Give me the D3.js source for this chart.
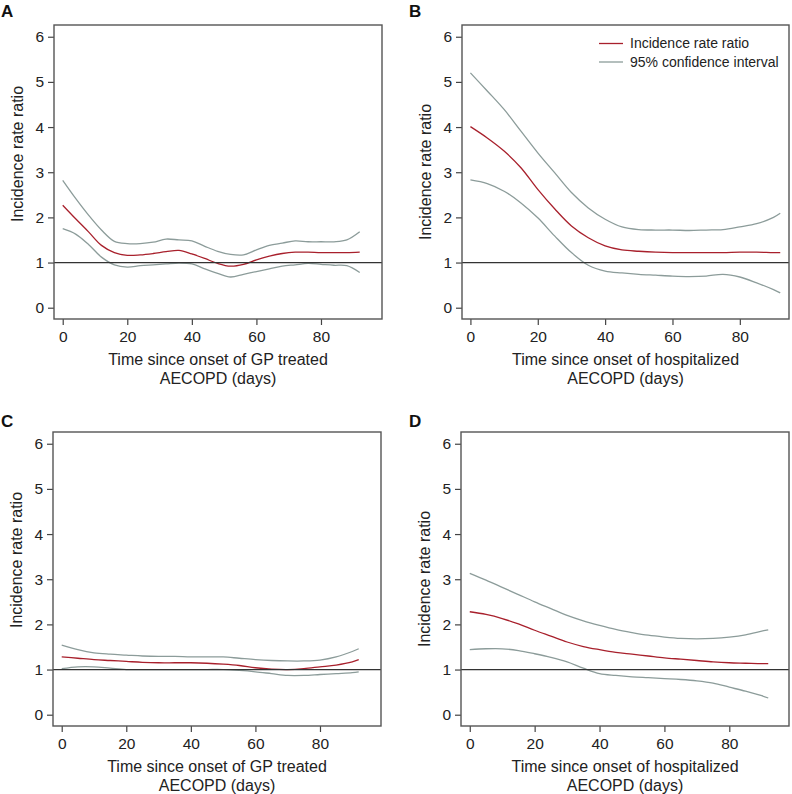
<!DOCTYPE html>
<html>
<head>
<meta charset="utf-8">
<script src="https://cdnjs.cloudflare.com/ajax/libs/d3/7.8.5/d3.min.js"></script>
<style type='text/css'>
  body { margin: 0; background: #fff; }
  svg text { font-family: "Liberation Sans", Arial, Helvetica, sans-serif; fill: #222; }
  .frame { fill: none; stroke: #555; stroke-width: 1.4; }
  .axis line { stroke: #444; stroke-width: 1.2; }
  .axis path { display: none; }
</style>
</head>
<body>
<div id='chart'></div>
<script type='text/javascript'>
// --- data ---
// panel A: GP treated AECOPD
var daysA  = [0,4,8,12,16,20,24,28,32,36,40,44,48,52,56,60,64,68,72,76,80,84,88,92];
var irrA   = [2.27,1.97,1.68,1.38,1.22,1.16,1.17,1.20,1.24,1.27,1.19,1.09,0.98,0.92,0.96,1.06,1.14,1.20,1.23,1.23,1.22,1.22,1.22,1.23];
var upperA = [2.82,2.42,2.05,1.72,1.47,1.42,1.42,1.45,1.52,1.50,1.48,1.36,1.25,1.18,1.17,1.28,1.38,1.43,1.48,1.46,1.46,1.46,1.50,1.68];
var lowerA = [1.75,1.63,1.40,1.12,0.95,0.90,0.93,0.95,0.97,0.99,0.97,0.86,0.76,0.68,0.74,0.80,0.86,0.92,0.95,0.98,0.96,0.94,0.93,0.78];

// panel B: hospitalized AECOPD
var daysB  = [0,5,10,15,20,25,30,35,40,45,50,55,60,65,70,75,80,85,90,92];
var irrB   = [4.01,3.76,3.47,3.10,2.62,2.19,1.81,1.55,1.37,1.28,1.25,1.23,1.22,1.22,1.22,1.22,1.23,1.23,1.22,1.22];
var upperB = [5.20,4.80,4.39,3.91,3.43,2.99,2.55,2.21,1.96,1.79,1.73,1.72,1.72,1.71,1.72,1.73,1.79,1.86,2.00,2.09];
var lowerB = [2.83,2.75,2.58,2.32,1.99,1.59,1.22,0.94,0.81,0.77,0.74,0.72,0.70,0.69,0.70,0.74,0.68,0.55,0.40,0.33];

// panel C: GP treated AECOPD
var daysC  = [0,5,10,15,20,25,30,35,40,45,50,55,60,65,70,75,80,85,90,92];
var irrC   = [1.28,1.25,1.22,1.20,1.18,1.16,1.15,1.15,1.15,1.14,1.12,1.09,1.04,1.01,1.00,1.02,1.06,1.10,1.17,1.22];
var upperC = [1.54,1.44,1.37,1.34,1.32,1.30,1.29,1.29,1.28,1.28,1.28,1.25,1.22,1.20,1.19,1.19,1.21,1.28,1.40,1.46];
var lowerC = [1.02,1.06,1.06,1.03,1.00,1.00,1.00,1.00,1.00,1.00,1.00,0.98,0.95,0.91,0.87,0.87,0.89,0.91,0.93,0.95];

// panel D: hospitalized AECOPD
var daysD  = [0,5,10,15,20,25,30,35,40,45,50,55,60,65,70,75,80,85,90,92];
var irrD   = [2.28,2.22,2.13,2.01,1.87,1.74,1.61,1.51,1.44,1.38,1.34,1.30,1.26,1.23,1.20,1.17,1.15,1.14,1.13,1.13];
var upperD = [3.13,2.98,2.82,2.66,2.50,2.35,2.20,2.08,1.98,1.89,1.82,1.76,1.72,1.69,1.68,1.69,1.72,1.77,1.85,1.88];
var lowerD = [1.44,1.46,1.46,1.42,1.35,1.27,1.17,1.03,0.91,0.87,0.84,0.82,0.80,0.78,0.75,0.70,0.61,0.52,0.42,0.37];

var xTicks = [0,20,40,60,80];
var yTicks = [0,1,2,3,4,5,6];
var legendLabels = ["Incidence rate ratio", "95% confidence interval"];
var xTitleGP = ["Time since onset of GP treated", "AECOPD (days)"];
var xTitleHosp = ["Time since onset of hospitalized", "AECOPD (days)"];

var RED = "#a8202c", GREY = "#8c9c9a";

var panels = [
  {letter: "A", lx: 1, ly: 17, box: [54, 25, 328, 294], xdom: [-2.7, 98.9], ylabY: 154,
   days: daysA, irr: irrA, lo: lowerA, hi: upperA, xtitle: xTitleGP},
  {letter: "B", lx: 409, ly: 17, box: [462, 25, 327, 294], xdom: [-2.5, 94.6], ylabY: 172,
   days: daysB, irr: irrB, lo: lowerB, hi: upperB, xtitle: xTitleHosp, legend: true},
  {letter: "C", lx: 1, ly: 427, box: [53, 432, 328, 294], xdom: [-2.7, 98.9], ylabY: 560,
   days: daysC, irr: irrC, lo: lowerC, hi: upperC, xtitle: xTitleGP},
  {letter: "D", lx: 409, ly: 427, box: [461, 432, 328, 294], xdom: [-2.7, 98.4], ylabY: 579,
   days: daysD, irr: irrD, lo: lowerD, hi: upperD, xtitle: xTitleHosp}
];

var svg = d3.select("#chart").append("svg")
  .attr("width", 792)
  .attr("height", 794);

svg.append("rect").attr("width", 792).attr("height", 794).attr("fill", "#fff");

panels.forEach(function(p) {
  var bx = p.box[0], by = p.box[1], bw = p.box[2], bh = p.box[3];
  var x = d3.scaleLinear().domain(p.xdom).range([bx, bx + bw]);
  var y = d3.scaleLinear().domain([-0.25, 6.26]).range([by + bh, by]);

  var g = svg.append("g");

  // panel letter
  g.append("text")
    .attr("x", p.lx).attr("y", p.ly)
    .style("font-size", "17px").style("font-weight", "bold").style("fill", "#111")
    .text(p.letter);

  // axes
  var ya = g.append("g").attr("class", "axis")
    .attr("transform", "translate(" + bx + ",0)")
    .call(d3.axisLeft(y).tickValues(yTicks).tickFormat(d3.format("d"))
      .tickSize(6).tickSizeOuter(0).tickPadding(4));
  var xa = g.append("g").attr("class", "axis")
    .attr("transform", "translate(0," + (by + bh) + ")")
    .call(d3.axisBottom(x).tickValues(xTicks).tickFormat(d3.format("d"))
      .tickSize(6).tickSizeOuter(0).tickPadding(6));
  [ya, xa].forEach(function(a) {
    a.attr("font-size", null).attr("font-family", null);
    a.selectAll("text")
      .style("font-size", "15.5px")
      .style("font-family", "'Liberation Sans', Arial, Helvetica, sans-serif")
      .style("fill", "#222");
  });

  // curves
  var line = d3.line()
    .x(function(d) { return x(d[0]); })
    .y(function(d) { return y(d[1]); })
    .curve(d3.curveCatmullRom.alpha(0.5));

  [[p.hi, GREY], [p.lo, GREY], [p.irr, RED]].forEach(function(s) {
    g.append("path")
      .datum(p.days.map(function(d, i) { return [d, s[0][i]]; }))
      .attr("d", line)
      .attr("fill", "none")
      .attr("stroke", s[1])
      .attr("stroke-width", 1.3);
  });

  // reference line at 1
  g.append("line")
    .attr("x1", bx).attr("x2", bx + bw)
    .attr("y1", y(1)).attr("y2", y(1))
    .attr("stroke", "#333").attr("stroke-width", 1.2);

  g.append("rect").attr("class", "frame")
    .attr("x", bx).attr("y", by).attr("width", bw).attr("height", bh);

  // titles
  g.append("text")
    .attr("transform", "translate(" + (bx - 31) + "," + p.ylabY + ") rotate(-90)")
    .attr("text-anchor", "middle")
    .style("font-size", "16px")
    .text("Incidence rate ratio");

  g.selectAll(".xt").data(p.xtitle).enter().append("text")
    .attr("x", bx + bw / 2)
    .attr("y", function(d, i) { return by + bh + 46 + i * 19; })
    .attr("text-anchor", "middle")
    .style("font-size", "16px")
    .text(function(d) { return d; });

  if (p.legend) {
    var lg = g.append("g");
    [RED, GREY].forEach(function(c, i) {
      lg.append("line")
        .attr("x1", 599).attr("x2", 623)
        .attr("y1", 43.5 + i * 18.5).attr("y2", 43.5 + i * 18.5)
        .attr("stroke", c).attr("stroke-width", 1.3);
      lg.append("text")
        .attr("x", 630).attr("y", 43.5 + i * 18.5)
        .attr("dy", "0.35em")
        .style("font-size", "14px")
        .text(legendLabels[i]);
    });
  }
});
</script>
</body>
</html>
